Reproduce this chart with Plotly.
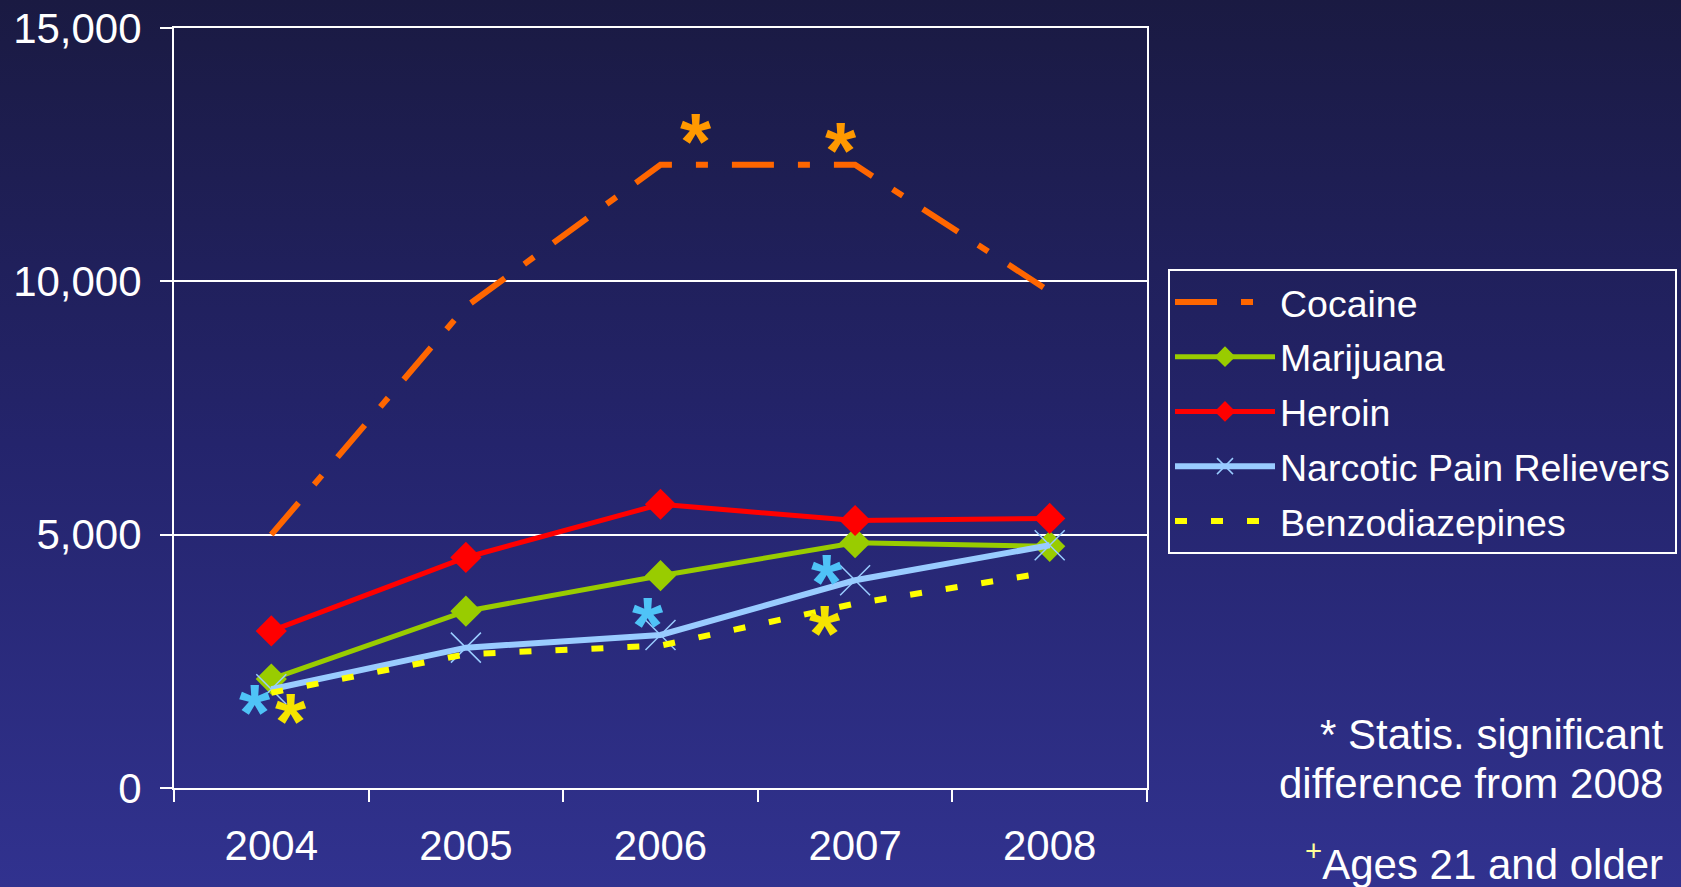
import base64
import plotly.graph_objects as go

# ---------------- data ----------------
years = ["2004", "2005", "2006", "2007", "2008"]
cocaine = [5000, 9500, 12300, 12300, 9800]
marijuana = [2150, 3490, 4190, 4840, 4770]
heroin = [3100, 4550, 5600, 5280, 5320]
narcotic = [1950, 2770, 3020, 4100, 4790]
benzo = [1880, 2640, 2810, 3640, 4260]

y_ticks = [0, 5000, 10000, 15000]

W, H = 1681, 887
ML, MR, MT, MB = 174, 534, 28, 99
PW, PH = W - ML - MR, H - MT - MB

FONT = "Liberation Sans, Arial, sans-serif"

fig = go.Figure()

fig.add_trace(go.Scatter(
    x=years, y=cocaine, name="Cocaine", mode="lines",
    line=dict(color="#FF6600", width=6, dash="42px,24px,12px,24px"),
    legendgroup="a"))
fig.add_trace(go.Scatter(
    x=years, y=marijuana, name="Marijuana", mode="lines+markers",
    line=dict(color="#99CC00", width=5),
    marker=dict(symbol="diamond", size=24, color="#99CC00"),
    legendgroup="b"))
fig.add_trace(go.Scatter(
    x=years, y=heroin, name="Heroin", mode="lines+markers",
    line=dict(color="#FF0000", width=5),
    marker=dict(symbol="diamond", size=24, color="#FF0000"),
    legendgroup="c"))
fig.add_trace(go.Scatter(
    x=years, y=narcotic, name="Narcotic Pain Relievers", mode="lines+markers",
    line=dict(color="#99CCFF", width=6),
    marker=dict(symbol="x-thin", size=30, color="#99CCFF",
                line=dict(color="#99CCFF", width=1.5)),
    legendgroup="d"))
fig.add_trace(go.Scatter(
    x=years, y=benzo, name="Benzodiazepines", mode="lines",
    line=dict(color="#FFFF00", width=6, dash="12px,24px"),
    legendgroup="e"))

# significance asterisks: (series, year index, colour, xshift px, yshift px)
stars = [
    (cocaine, 2, "#FF9900", 35, 34),
    (cocaine, 3, "#FF9900", -14, 25),
    (narcotic, 0, "#4FC3F7", -16, -13),
    (benzo, 0, "#F5E400", 20, -18),
    (narcotic, 2, "#4FC3F7", -13, 20),
    (narcotic, 3, "#4FC3F7", -28, 8),
    (benzo, 3, "#F5E400", -30, -19),
]
STAR_SIZE = 80
annotations = []
for series, i, col, xs, ys in stars:
    annotations.append(dict(
        x=i, y=series[i], xref="x", yref="y", text="<b>*</b>",
        showarrow=False, xanchor="center", yanchor="middle",
        xshift=xs, yshift=ys - 0.133 * STAR_SIZE,
        font=dict(family=FONT, size=STAR_SIZE, color=col)))

notes = [
    ("* Statis. significant", 734),
    ("difference from 2008", 783),
    ("<span style='color:#FFFF99'><sup>+</sup></span>Ages 21 and older", 861),
]
for txt, ypix in notes:
    annotations.append(dict(
        xref="paper", yref="paper", x=(1665 - ML) / PW, y=(MT + PH - ypix) / PH,
        xanchor="right", yanchor="middle", showarrow=False, align="right",
        text=txt, font=dict(family=FONT, size=42, color="white")))

svg = (
    f'<svg xmlns="http://www.w3.org/2000/svg" width="{W}" height="{H}">'
    '<defs><linearGradient id="g" x1="0" y1="0" x2="0" y2="1">'
    '<stop offset="0" stop-color="#1A1A42"/>'
    '<stop offset="0.5" stop-color="#24246C"/>'
    '<stop offset="1" stop-color="#31328F"/>'
    '</linearGradient></defs>'
    f'<rect width="{W}" height="{H}" fill="url(#g)"/></svg>'
)
src = "data:image/svg+xml;base64," + base64.b64encode(svg.encode()).decode()

fig.update_layout(
    width=W, height=H,
    margin=dict(l=ML, r=MR, t=MT, b=MB, pad=0, autoexpand=False),
    paper_bgcolor="#24246C", plot_bgcolor="rgba(0,0,0,0)",
    images=[dict(source=src, xref="paper", yref="paper",
                 x=-ML / PW, y=1 + MT / PH, sizex=W / PW, sizey=H / PH,
                 xanchor="left", yanchor="top", sizing="stretch",
                 layer="below")],
    font=dict(family=FONT, color="white", size=37),
    showlegend=True,
    legend=dict(xref="container", yref="container",
                x=1168 / W, y=1 - 269 / H,
                xanchor="left", yanchor="top",
                bordercolor="white", borderwidth=2,
                bgcolor="rgba(0,0,0,0)",
                font=dict(family=FONT, size=37.5, color="white"),
                tracegroupgap=3, itemwidth=100),
    annotations=annotations,
    xaxis=dict(type="category", tickson="boundaries", ticks="outside",
               ticklen=12, tickwidth=2, tickcolor="white", automargin=False,
               showline=True, linecolor="white", linewidth=2, mirror=True,
               showgrid=False, tickfont=dict(size=42, color="white"),
               ticklabelstandoff=20, range=[-0.5, 4.5]),
    yaxis=dict(range=[0, 15000], tickvals=y_ticks, tickformat=",d",
               automargin=False,
               ticks="outside", ticklen=12, tickwidth=2, tickcolor="white",
               showline=True, linecolor="white", linewidth=2, mirror=True,
               showgrid=True, gridcolor="white", gridwidth=2,
               zeroline=False, tickfont=dict(size=42, color="white"),
               ticklabelstandoff=10),
)

fig.write_html("out.html", config={"displayModeBar": False},
               post_script="document.body.style.margin='0';"
                           "document.body.style.padding='0';")
